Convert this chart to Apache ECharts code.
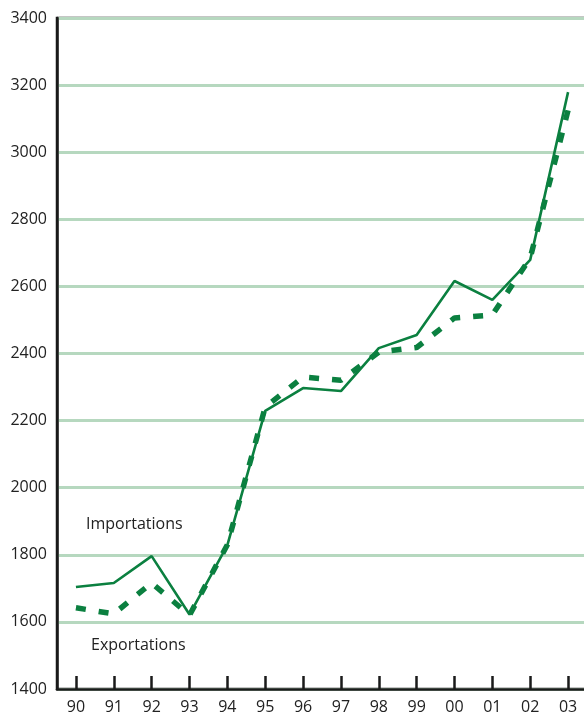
<!DOCTYPE html>
<html>
<head>
<meta charset="utf-8">
<script src="https://cdn.jsdelivr.net/npm/echarts@6/dist/echarts.min.js"></script>
<style>
  html, body { margin: 0; padding: 0; background: #fff; }
  #chart { width: 584px; height: 722px; }
</style>
</head>
<body>
<div id="chart"></div>
<script>
const years = ["90", "91", "92", "93", "94", "95", "96", "97", "98", "99", "00", "01", "02", "03"]
const importations = [1704, 1716, 1796, 1622, 1829, 2229, 2297, 2288, 2416, 2455, 2616, 2560, 2679, 3179]
const exportations = [1642, 1624, 1716, 1620, 1830, 2240, 2330, 2320, 2404, 2418, 2506, 2515, 2685, 3125]

const green = "#0b8040"
const font = "'Open Sans', 'Noto Sans', sans-serif"

let myChart = echarts.init(document.getElementById("chart"))
myChart.setOption({
  animation: false,
  grid: {
    left: 57,
    width: 530,
    top: 18,
    bottom: 33,
    outerBoundsMode: "none",
    show: true,
    borderColor: "#1a1a1a",
    borderWidth: 2.5,
    backgroundColor: "transparent"
  },
  xAxis: {
    type: "category",
    data: years,
    boundaryGap: true,
    axisLine: { lineStyle: { color: "#1a1a1a", width: 2.5 } },
    axisTick: {
      show: true,
      alignWithLabel: true,
      inside: true,
      length: 13,
      lineStyle: { color: "#1a1a1a", width: 2.5 }
    },
    axisLabel: { color: "#222", fontSize: 16, fontFamily: font, margin: 10 }
  },
  yAxis: {
    type: "value",
    min: 1400,
    max: 3400,
    interval: 200,
    axisLine: { show: true, lineStyle: { color: "#1a1a1a", width: 2.5 } },
    axisTick: { show: false },
    axisLabel: {
      color: "#222", fontSize: 16, fontFamily: font, margin: 10,
      formatter: v => String(v)
    },
    splitLine: { lineStyle: { color: "#b6d8bf", width: 3 } }
  },
  graphic: [
    {
      type: "text",
      left: 86,
      top: 516,
      style: { text: "Importations", fill: "#222", font: "16px " + font }
    },
    {
      type: "text",
      left: 91,
      top: 637,
      style: { text: "Exportations", fill: "#222", font: "16px " + font }
    }
  ],
  series: [
    {
      name: "Exportations",
      type: "line",
      data: exportations,
      showSymbol: false,
      lineStyle: { color: green, width: 5.5, type: [10, 13] }
    },
    {
      name: "Importations",
      type: "line",
      data: importations,
      showSymbol: false,
      lineStyle: { color: green, width: 2.6 }
    }
  ]
})
</script>
</body>
</html>
